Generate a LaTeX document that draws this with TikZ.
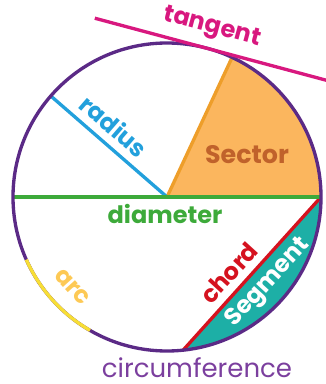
\documentclass[tikz,border=0pt]{standalone}
\usepackage{fontspec}
\setmainfont{Poppins}
\usetikzlibrary{calc}
\definecolor{circ}{HTML}{5B2A86}
\definecolor{circtext}{HTML}{7B3F9E}
\definecolor{tang}{HTML}{D8187F}
\definecolor{rad}{HTML}{22A0DC}
\definecolor{secfill}{HTML}{FBB65E}
\definecolor{secedge}{HTML}{EE9E2A}
\definecolor{sectext}{HTML}{C0622B}
\definecolor{diam}{HTML}{3DAA3A}
\definecolor{arcline}{HTML}{F7DE35}
\definecolor{arctext}{HTML}{FDC955}
\definecolor{chordc}{HTML}{D5121F}
\definecolor{segfill}{HTML}{1DAFA6}
\tikzset{
  lbl/.style={font=\bfseries\fontsize{18}{18}\selectfont, inner sep=0pt, anchor=center},
  thinlbl/.style={font=\fontsize{19.5}{19.5}\selectfont, inner sep=0pt, anchor=center},
  line/.style={line width=2.5pt}
}
\begin{document}
\begin{tikzpicture}[x=0.75pt,y=0.75pt]
\useasboundingbox (0,0) rectangle (325,-384);
\coordinate (C) at (167,-197);
\def\R{154}
\coordinate (E) at ($(C)+(0:\R)$);
\coordinate (W) at ($(C)+(180:\R)$);
\coordinate (S1) at ($(C)+(65:\R)$);
\coordinate (B) at ($(C)+(-84:\R)$);
\coordinate (Rd) at ($(C)+(139:\R)$);
\coordinate (T) at ($(C)+(75:\R)$);
\coordinate (T1) at ($(T)+(165:116)$);
\coordinate (T2) at ($(T)+(-15:124)$);
% sector
\fill[secfill] (C) -- (E) arc[start angle=0,end angle=65,radius=\R] -- cycle;
\draw[secedge, line] (C) -- (S1);
% segment
\fill[segfill] (B) arc[start angle=-84,end angle=0,radius=\R] -- cycle;
\draw[chordc, line] (B) -- (E);
% radius
\draw[rad, line] (C) -- (Rd);
% diameter
\draw[diam, line] (W) -- (E);
% circle
\draw[circ, line] (C) circle[radius=\R];
% arc
\draw[arcline, line] ($(C)+(204:\R)$) arc[start angle=204,end angle=240,radius=\R];
% tangent
\draw[tang, line] (T1) -- (T2);
% labels
\node[lbl, tang, rotate=-15] (lt) at (212,-28) {tangent};
\node[lbl, rad, rotate=-41] (lr) at (114,-126) {radius};
\node[lbl, sectext, font=\bfseries\fontsize{19}{19}\selectfont] (ls) at (247,-155) {Sector};
\node[lbl, diam] (ld) at (165,-214) {diameter};
\node[lbl, arctext, rotate=-48] (la) at (72,-287) {arc};
\node[lbl, chordc, rotate=47.6] (lc) at (229,-273) {chord};
\node[lbl, white, rotate=47.6] (lg) at (268,-283) {Segment};
\node[thinlbl, circtext] (lf) at (197,-368) {circumference};
\end{tikzpicture}
\end{document}
